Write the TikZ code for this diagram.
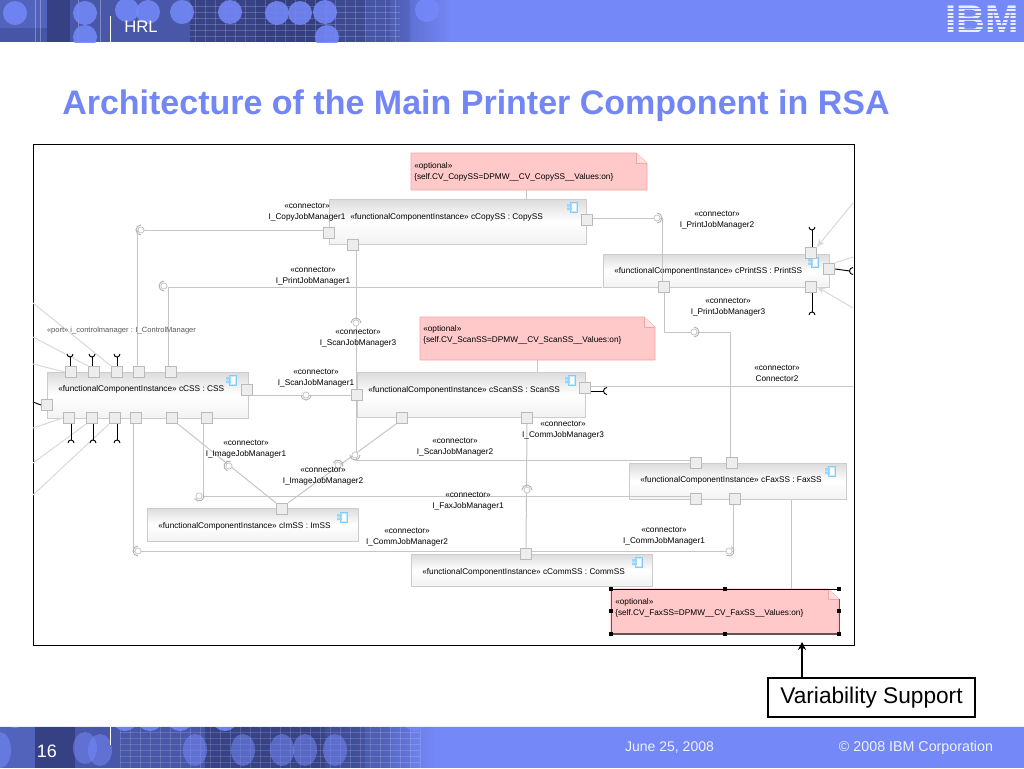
\documentclass[tikz,border=0pt]{standalone}
\usepackage{fontspec}
\setmainfont{Liberation Sans}
\usetikzlibrary{calc,arrows.meta}
\definecolor{hblue}{HTML}{7488F8}
\definecolor{hdark}{HTML}{2C3670}
\definecolor{hmid}{HTML}{5263BC}
\definecolor{ttl}{HTML}{7386F5}
\definecolor{ln}{HTML}{C6C6C6}
\definecolor{notef}{HTML}{FFC9C9}
\definecolor{noted}{HTML}{EFA6A6}
\newcommand\dg{\fontsize{6.2}{8.25}\selectfont}
\tikzset{
  x=0.75pt,y=-0.75pt,
  portbox/.style={draw=black!27,line width=0.6pt,fill=black!7,minimum size=8.6pt,inner sep=0pt,rectangle},
  conn/.style={draw=ln,line width=0.75pt},
  outer/.style={draw=black!15,line width=0.75pt},
  stub/.style={draw=black,line width=0.7pt},
  lolli/.style={circle,draw=black!22,fill=white,line width=0.6pt,minimum size=4.6pt,inner sep=0pt},
  cup/.style={draw=black!30,line width=0.7pt},
  lbl/.style={inner sep=0pt,font=\dg,align=center},
  boxtxt/.style={inner sep=0pt,font=\dg,anchor=west},
  handle/.style={fill=black,rectangle,minimum size=3.4pt,inner sep=0pt},
  foot/.style={inner sep=0pt,anchor=base,text=white!88!hblue}
}
\newcommand\cbox[8]{%
  \node[draw=black!20,line width=0.75pt,top color=black!14,bottom color=black!5,middle color=white,rectangle,inner sep=0pt,
        minimum width=(#4-#2)*0.75pt,minimum height=(#5-#3)*0.75pt] (#1) at ({(#2+#4)/2},{(#3+#5)/2}) {};
  \node[boxtxt] (#1t) at (#6,#7) {#8};}
\newcommand\port[3]{\node[portbox] (#1) at (#2,#3) {};}
\newcommand\icon[2]{%
  \fill[blue!30!cyan!25,draw=blue!40!cyan!50,line width=0.4pt] (#1-2,#2-5) rectangle (#1+5,#2+5);
  \fill[white] (#1-0.5,#2-3.5) rectangle (#1+3.5,#2+3.5);
  \fill[blue!40!cyan!40] (#1-5,#2-3) rectangle (#1,#2-0.5) (#1-5,#2+0.5) rectangle (#1,#2+3);}
\newcommand\lollip[4]{\node[lolli] (#1) at (#2,#3) {};
  \draw[cup] ([shift={(#4-90:5)}]#1.center) arc (#4-90:#4+90:5);}
\newcommand\clabel[4]{\node[lbl] (#1) at (#2,#3) {«connector»\\#4};}
% stepped horizontal fade from colour hmid to hblue: x0, width, y0, y1
\newcommand\fadeband[4]{%
  \foreach \k in {0,...,19} {
    \pgfmathsetmacro\pc{\k*5}
    \fill[hblue!\pc!hmid] ({#1+\k*#2/20},#3) rectangle ({#1+(\k+1.1)*#2/20},#4);}}
\begin{document}
\begin{tikzpicture}
\useasboundingbox (0,0) rectangle (1024,768);
\fill[white] (0,0) rectangle (1024,768);
% ---- header band
\fill[hblue] (0,0) rectangle (1024,42);
\fill[hmid] (0,0) rectangle (385,42);
\fadeband{385}{65}{0}{42}
\begin{scope}
\clip (0,0) rectangle (1024,42);
\fill[hdark,opacity=.75] (47,0) rectangle (70,42);
\fill[hdark,opacity=.3] (0,28) rectangle (47,42);
\fill[hdark,opacity=.25] (70,0) rectangle (190,42);
\fill[hdark,opacity=.7] (190,0) rectangle (255,42);
\fill[hdark,opacity=.8] (255,0) rectangle (325,42);
\fill[hdark,opacity=.55] (325,0) rectangle (365,42);
\fill[hdark,opacity=.3] (365,0) rectangle (390,42);
\fill[hdark,opacity=.15] (390,0) rectangle (410,42);
\foreach \gx in {195,205,...,400} \draw[white,opacity=.18,line width=.3pt] (\gx,0) -- (\gx,42);
\foreach \gy in {6,12,...,42} \draw[white,opacity=.18,line width=.3pt] (190,\gy) -- (400,\gy);
\foreach \gx in {35,40,78,100} \draw[white,opacity=.3,line width=.3pt] (\gx,0) -- (\gx,42);
\foreach \cx/\cy in {15/13,85/13,85/37,127/10,148/12,182/12,230/12,277/13,300/13,325/12,327/37,427/10}
  \fill[hblue,opacity=.88] (\cx,\cy) circle (12);
\end{scope}
\draw[white,line width=.6pt] (110,16) -- (110,42);
\node[inner sep=0pt,text=white,font=\fontsize{12.5}{14}\selectfont] (hrl) at (141,27) {HRL};
% IBM logo
\node[inner sep=0pt,text=white!85!hblue,font=\fontsize{30}{30}\bfseries\selectfont] (ibm) at (982,20) {IBM};
\foreach \sy in {8.5,12,15.5,19,22.5,26,29.5,33} \draw[hblue,line width=1.1pt] (940,\sy) -- (1022,\sy);
% ---- footer band
\fill[hblue] (0,726) rectangle (1024,768);
\fill[hmid] (0,726) rectangle (350,768);
\fadeband{350}{85}{726}{768}
\begin{scope}
\clip (0,726) rectangle (1024,768);
\fill[hdark,opacity=.75] (35,726) rectangle (75,768);
\fill[hdark,opacity=.25] (75,726) rectangle (205,768);
\fill[hdark,opacity=.7] (205,726) rectangle (325,768);
\fill[hdark,opacity=.45] (325,726) rectangle (365,768);
\fill[hdark,opacity=.25] (365,726) rectangle (390,768);
\fill[hdark,opacity=.12] (390,726) rectangle (410,768);
\foreach \gx in {120,130,...,420} \draw[white,opacity=.15,line width=.3pt] (\gx,726) -- (\gx,768);
\foreach \gy in {732,738,...,768} \draw[white,opacity=.15,line width=.3pt] (120,\gy) -- (420,\gy);
\foreach \cx/\cy in {85/748,100/750,195/750,243/750,282/750,305/750,335/750}
  \fill[hblue,opacity=.55] (\cx,\cy) ellipse (12 and 16);
\foreach \cx/\cy in {15/715,125/718,150/718,180/718,225/718,415/718}
  \fill[hblue,opacity=.9] (\cx,\cy) circle (13);
\fill[hblue,opacity=.6] (0,750) ellipse (11 and 18);
\end{scope}
\draw[white!85!hblue,line width=.6pt] (0,726) -- (1024,726);
\draw[white,line width=.6pt] (110,726) -- (110,745);
\node[inner sep=0pt,text=white,font=\fontsize{13.5}{15}\selectfont] (pageno) at (47,751) {16};
\node[foot,font=\fontsize{10.5}{12}\selectfont] (fdate) at (669.5,751) {June 25, 2008};
\node[foot,font=\fontsize{10.7}{12}\selectfont] (fcopy) at (916,751) {© 2008 IBM Corporation};
% ---- title
\node[inner sep=0pt,anchor=base west,text=ttl,font=\fontsize{25.5}{28}\bfseries\selectfont] (title) at (62,114) {Architecture of the Main Printer Component in RSA};
% ---- frame
\draw[black,line width=0.65pt,fill=white] (33,144) rectangle (854,645);
% ---- boxes
\cbox{css}{47}{372}{248}{418}{58}{389}{«functionalComponentInstance» cCSS : CSS}
\cbox{copy}{329}{199}{586}{244}{350}{217}{«functionalComponentInstance» cCopySS : CopySS}
\cbox{print}{603}{254}{829}{287}{614}{271}{«functionalComponentInstance» cPrintSS : PrintSS}
\cbox{scan}{357}{372}{585}{417}{368}{390}{«functionalComponentInstance» cScanSS : ScanSS}
\cbox{fax}{629}{463}{846}{499}{640}{480}{«functionalComponentInstance» cFaxSS : FaxSS}
\cbox{ims}{147}{508}{358}{541}{158}{526}{«functionalComponentInstance» cImSS : ImSS}
\cbox{comm}{411}{554}{652}{586}{422}{572}{«functionalComponentInstance» cCommSS : CommSS}
\icon{231}{380}\icon{572}{207}\icon{813}{262}\icon{570}{380}\icon{830}{471}\icon{342}{517}\icon{637}{562}
% ---- notes
\newcommand\noteshape[5]{%
  \node[inner sep=0pt,minimum width=(#4-#2)*0.75pt,minimum height=(#5-#3)*0.75pt] (#1) at ({(#2+#4)/2},{(#3+#5)/2}) {};
  \draw[draw=noted,fill=notef,line width=.6pt] (#2,#3) -- (#4-11,#3) -- (#4,#3+10) -- (#4,#5) -- (#2,#5) -- cycle;
  \draw[draw=noted,fill=notef!60,line width=.6pt] (#4-11,#3) -- (#4-11,#3+10) -- (#4,#3+10);}
\noteshape{ncopy}{411}{153}{647}{190}
\noteshape{nscan}{420}{317}{655}{360}
\noteshape{nfax}{611}{589}{839}{634}
\draw[black,line width=.7pt] (611,589) -- (839,589);
\draw[black!60!notef,line width=.9pt] (611,634) -- (839,634);
\draw[black!60!notef,line width=.6pt] (611,589) -- (611,634) (839,599) -- (839,634);
\node[boxtxt,align=left] (ncopyt) at (414,171.5) {«optional»\\\{self.CV\_CopySS=DPMW\_\_CV\_CopySS\_\_Values:on\}};
\node[boxtxt,align=left] (nscant) at (423,334.5) {«optional»\\\{self.CV\_ScanSS=DPMW\_\_CV\_ScanSS\_\_Values:on\}};
\node[boxtxt,align=left] (nfaxt) at (615,607.5) {«optional»\\\{self.CV\_FaxSS=DPMW\_\_CV\_FaxSS\_\_Values:on\}};
\foreach \hx/\hy/\hn in {611/589/a,725/589/b,839/589/c,611/611/d,839/611/e,611/634/f,725/634/g,839/634/h}
  \node[handle] (hd\hn) at (\hx,\hy) {};
% ---- note links
\draw[conn,line width=.5pt] (ncopy.south -| 526,0) -- (copy.north -| 526,0);
\draw[conn,line width=.5pt] (nscan.south -| 537,0) -- (scan.north -| 537,0);
\draw[conn,line width=.5pt] (fax.south -| 791,0) -- (nfax.north -| 791,0);
% ---- ports
\port{cssA}{71}{372}\port{cssB}{94}{372}\port{cssC}{117}{372}\port{cssD}{139}{372}\port{cssE}{171}{372}
\port{cssR}{247}{390}\port{cssL}{47}{405}
\port{cssF}{69}{418}\port{cssG}{92}{418}\port{cssH}{115}{418}\port{cssI}{136}{418}\port{cssJ}{172}{418}\port{cssK}{207}{418}
\port{copyL}{329}{233}\port{copyB}{353}{245}\port{copyR}{587}{220}
\port{prT}{811}{253}\port{prR}{829}{269}\port{prB}{811}{287}\port{prL}{664}{287}
\port{scL}{357}{395}\port{scR}{585}{388}\port{scA}{402}{418}\port{scB}{527}{418}
\port{fxA}{696}{463}\port{fxB}{732}{463}\port{fxC}{696}{499}\port{fxD}{735}{499}
\port{imT}{282}{509}\port{cmT}{526}{554}
% ---- connectors
\draw[conn] ([shift={(-2,-6)}]cssD.center) |- ([shift={(-6,-3)}]copyL.center);
\draw[conn] ([shift={(-3,-6)}]cssE.center) |- ([shift={(-1,-0.5)}]print.south west);
\draw[conn] ([shift={(3,6)}]copyB.center) -- ([shift={(-1,-6)}]scL.center);
\draw[conn] ([shift={(-1,6)}]scL.center) |- ([shift={(-6,-3)}]fxA.center);
\draw[conn] ([shift={(6,5)}]cssR.center) -- ([shift={(-6,0)}]scL.center);
\draw[conn] ([shift={(0,6)}]scB.center) -- ([shift={(0,-6)}]cmT.center);
\draw[conn] (cssJ.south east) -- (imT.north west);
\draw[conn] (scA.south west) -- (imT.north east);
\draw[conn] ([shift={(-3.5,6)}]cssK.center) |- ([shift={(-6,-3)}]fxC.center);
\draw[conn] ([shift={(-3,6)}]cssI.center) |- ([shift={(-6,-3)}]cmT.center);
\draw[conn] ([shift={(6,-3)}]cmT.center) -| ([shift={(-2,6)}]fxD.center);
\draw[conn] ([shift={(6,-2)}]copyR.center) -| ([shift={(-2,-6)}]prL.center);
\coordinate (bend) at (730,332);
\draw[conn] ([shift={(0,6)}]prL.center) |- (bend) -- (bend |- fxB.north);
\draw[conn] ([shift={(6,-1.5)}]scR.center) -- ([shift={(0,-1.5)}]scR.center -| 853,0);
% outer free-ended lines
\coordinate (oa) at (33,303);\coordinate (ob) at (33,337);\coordinate (oc) at (33,364);
\coordinate (od) at (33,428);\coordinate (oe) at (33,463);\coordinate (of) at (33,495);
\coordinate (og) at (853,203);\coordinate (oh) at (853,257);\coordinate (oi) at (853,308);
\draw[outer] (oa) -- (cssC.north west);
\draw[outer] (ob) -- (cssB.north west);
\draw[outer] (oc) -- (cssA.west);
\draw[outer] (od) -- (cssF.west);
\draw[outer] (oe) -- (cssG.south west);
\draw[outer] (of) -- (cssH.south west);
\draw[outer,-{Stealth[length=6pt,width=5pt]}] (og) -- (prT.north east);
\draw[outer] (oh) -- (prR.north east);
\draw[outer,-{Stealth[length=6pt,width=5pt]}] (oi) -- (prB.east);
% ---- black stubs
\coordinate (sa) at (70,357);\coordinate (sb) at (92,357);\coordinate (sc) at (117,357);
\coordinate (sd) at (71,440);\coordinate (se) at (93,440);\coordinate (sf) at (117,440);
\coordinate (sg) at (812,230);\coordinate (sh) at (812,312);\coordinate (si) at (850,271);
\coordinate (sj) at (33,402);\coordinate (sk) at (604,391);
\foreach \pa/\sx in {cssA/sa,cssB/sb,cssC/sc,prT/sg} {
  \draw[stub] (\sx |- \pa.north) -- (\sx);
  \draw[stub] ([shift={(-3,-3)}]\sx) arc (180:0:3);}
\foreach \pa/\sx in {cssF/sd,cssG/se,cssH/sf,prB/sh} {
  \draw[stub] (\sx |- \pa.south) -- (\sx);
  \draw[stub] ([shift={(-3,3)}]\sx) arc (180:360:3);}
\draw[stub] (prR.east) -- (si);
\draw[stub] ([shift={(3,-3.5)}]si) arc (270:90:3.5);
\draw[stub] (sj) -- (cssL.west);
\draw[stub] (scR.east |- sk) -- (sk);
\draw[stub] ([shift={(3,-3.5)}]sk) arc (270:90:3.5);
% ---- interface symbols
\lollip{l1}{141}{230}{180}
\lollip{l2}{164}{286}{180}
\lollip{l3}{356}{323}{270}
\lollip{l4}{355}{455}{90}
\lollip{l5}{306}{395}{90}
\lollip{l6}{229}{466}{200}
\lollip{l7}{338}{465}{290}
\lollip{l8}{199}{496}{60}
\lollip{l9}{138}{551}{180}
\lollip{l10}{527}{490}{270}
\lollip{l11}{729}{551}{30}
\lollip{l12}{657}{218}{0}
\lollip{l13}{694}{332}{0}
% ---- labels
\clabel{t1}{307}{212.5}{I\_CopyJobManager1}
\clabel{t2}{313}{276}{I\_PrintJobManager1}
\clabel{t3}{358}{338}{I\_ScanJobManager3}
\clabel{t4}{316}{378.5}{I\_ScanJobManager1}
\clabel{t5}{246}{449.5}{I\_ImageJobManager1}
\clabel{t6}{323}{476}{I\_ImageJobManager2}
\clabel{t7}{455}{447}{I\_ScanJobManager2}
\clabel{t8}{468}{501}{I\_FaxJobManager1}
\clabel{t9}{407}{537}{I\_CommJobManager2}
\clabel{t10}{563}{430.5}{I\_CommJobManager3}
\clabel{t11}{664}{536.5}{I\_CommJobManager1}
\clabel{t12}{717}{220}{I\_PrintJobManager2}
\clabel{t13}{728}{307.5}{I\_PrintJobManager3}
\clabel{t14}{777}{373.5}{Connector2}
\node[lbl,text=black!65,font=\fontsize{5.65}{6.5}\selectfont] (portlbl) at (121.5,331) {«port» i\_controlmanager : I\_ControlManager};
% ---- callout
\node[draw=black,fill=white,line width=.8pt,minimum width=155.25pt,minimum height=29.25pt,inner sep=0pt,font=\fontsize{17}{20}\selectfont] (vs) at (871.5,697.5) {\raisebox{-1.5pt}{Variability Support}};
\coordinate (vstip) at (802,642);
\draw[black,line width=.9pt,-{Stealth[length=6pt,width=6pt]}] (vs.north -| vstip) -- (vstip);
\end{tikzpicture}
\end{document}
